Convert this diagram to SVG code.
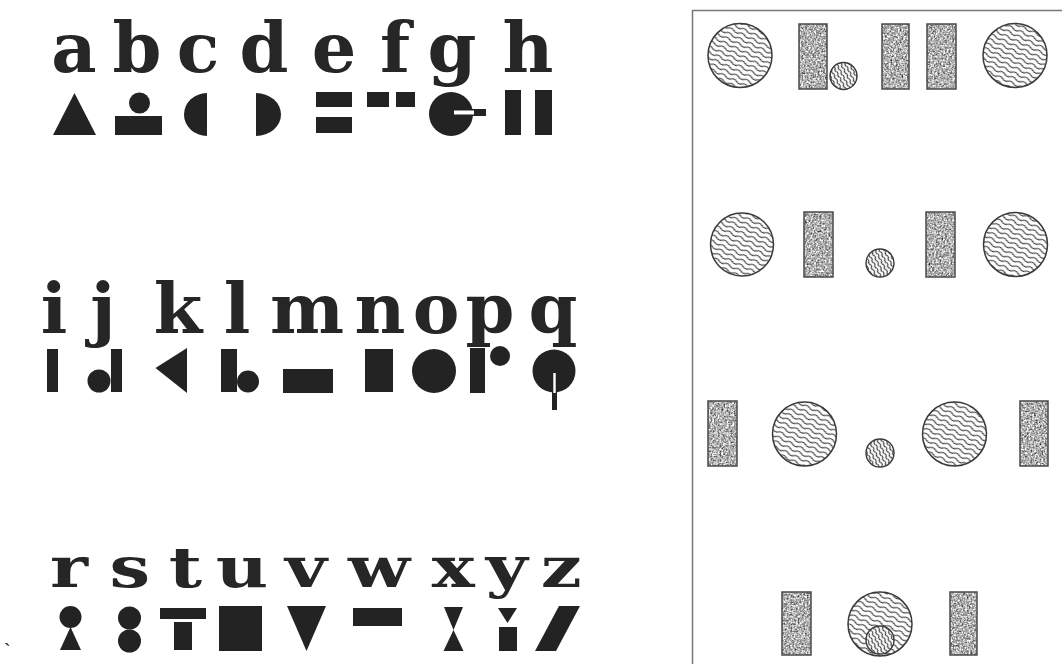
<svg xmlns="http://www.w3.org/2000/svg" width="1062" height="664" viewBox="0 0 1062 664">
<defs>
<style>
.L{font-family:"DejaVu Serif","Liberation Serif",serif;font-weight:bold;font-size:70px;fill:#262626;text-anchor:middle}
.s{fill:#232323}
.big{fill:url(#wave);stroke:#3a3a3a;stroke-width:1.5}
.sm{fill:url(#wave2);stroke:#3a3a3a;stroke-width:1.4}
.rt{filter:url(#speck)}
.ro{fill:none;stroke:#4a4a4a;stroke-width:1.5}
</style>
<pattern id="wave" patternUnits="userSpaceOnUse" width="12" height="5" patternTransform="rotate(25)">
<rect width="12" height="5" fill="#fff"/>
<path d="M0 2.5 Q3 0.4 6 2.5 T12 2.5" fill="none" stroke="#3a3a3a" stroke-width="1.1"/>
</pattern>
<pattern id="wave2" patternUnits="userSpaceOnUse" width="6" height="3.8" patternTransform="rotate(62)">
<rect width="6" height="3.8" fill="#fff"/>
<path d="M0 1.9 Q1.5 0.5 3 1.9 T6 1.9" fill="none" stroke="#333" stroke-width="1.1"/>
</pattern>
<filter id="speck" x="0" y="0" width="100%" height="100%" color-interpolation-filters="sRGB">
<feTurbulence type="fractalNoise" baseFrequency="0.55" numOctaves="2" seed="5"/>
<feColorMatrix type="matrix" values="0.33 0.33 0.33 0 0 0.33 0.33 0.33 0 0 0.33 0.33 0.33 0 0 0 0 0 0 1"/>
<feComponentTransfer>
<feFuncR type="linear" slope="2.3" intercept="-0.45"/>
<feFuncG type="linear" slope="2.3" intercept="-0.45"/>
<feFuncB type="linear" slope="2.3" intercept="-0.45"/>
</feComponentTransfer>
<feComposite in2="SourceGraphic" operator="in"/>
</filter>
</defs>
<rect width="1062" height="664" fill="#fff"/>

<g id="row1">
<g id="a"><text class="L" x="74" y="72">a</text><polygon class="s" points="53,135 74.5,93 96,135"/></g>
<g id="b"><text class="L" x="137" y="72">b</text><circle class="s" cx="139.5" cy="103" r="10.5"/><rect class="s" x="115" y="116" width="47" height="19"/></g>
<g id="c"><text class="L" x="198" y="72">c</text><path class="s" d="M207,93 A23,21.5 0 0 0 207,136 Z"/></g>
<g id="d"><text class="L" x="264" y="72">d</text><path class="s" d="M256,93 A25,21.5 0 0 1 256,136 Z"/></g>
<g id="e"><text class="L" x="334" y="72">e</text><rect class="s" x="316" y="92" width="36" height="15"/><rect class="s" x="316" y="117" width="36" height="16"/></g>
<g id="f"><text class="L" x="395" y="72">f</text><rect class="s" x="367" y="92" width="22" height="15"/><rect class="s" x="396" y="92" width="19" height="15"/></g>
<g id="g"><text class="L" x="452" y="72">g</text><circle class="s" cx="451" cy="114" r="22"/><rect class="s" x="452" y="109" width="34" height="7"/><rect x="454" y="110.5" width="20" height="4" fill="#fff"/></g>
<g id="h"><text class="L" x="528" y="72">h</text><rect class="s" x="505" y="90" width="16" height="45"/><rect class="s" x="535" y="90" width="17" height="45"/></g>
</g>

<g id="row2">
<g id="i"><text class="L" x="54" y="333">i</text><rect class="s" x="47" y="349" width="11" height="43"/></g>
<g id="j"><text class="L" x="103" y="333">j</text><rect class="s" x="111" y="349" width="11" height="43"/><circle class="s" cx="99" cy="381" r="11.5"/></g>
<g id="k"><text class="L" x="178" y="333">k</text><polygon class="s" points="155.5,368 187,348 187,393"/></g>
<g id="l"><text class="L" x="237" y="333">l</text><rect class="s" x="221" y="349" width="16" height="43"/><circle class="s" cx="248" cy="381.5" r="11"/></g>
<g id="m"><text class="L" x="307" y="333">m</text><rect class="s" x="283" y="369" width="50" height="24"/></g>
<g id="n"><text class="L" x="380" y="333">n</text><rect class="s" x="365" y="349" width="28" height="43"/></g>
<g id="o"><text class="L" x="436" y="333">o</text><circle class="s" cx="434" cy="371" r="22"/></g>
<g id="p"><text class="L" x="490" y="333">p</text><rect class="s" x="470" y="348" width="15" height="45"/><circle class="s" cx="500" cy="356" r="10"/></g>
<g id="q"><text class="L" x="553" y="333">q</text><circle class="s" cx="554" cy="371" r="21.5"/><rect class="s" x="552" y="372" width="5" height="38"/><rect x="553.3" y="373" width="2.4" height="20" fill="#fff"/></g>
</g>

<g id="row3">
<g transform="translate(0,587) scale(1.03,0.8) translate(0,-587)">
<text class="L" x="67" y="587">r</text>
<text class="L" x="126" y="587">s</text>
<text class="L" x="180" y="587">t</text>
<text class="L" x="235" y="587">u</text>
<text class="L" x="297" y="587">v</text>
<text class="L" x="368" y="587">w</text>
<text class="L" x="440" y="587">x</text>
<text class="L" x="492" y="587">y</text>
<text class="L" x="545" y="587">z</text>
</g>
<g id="r"><circle class="s" cx="70.5" cy="617" r="11"/><polygon class="s" points="70.5,627 81,650 60,650"/></g>
<g id="s"><circle class="s" cx="129.5" cy="618" r="11.5"/><circle class="s" cx="129.5" cy="641" r="11.5"/></g>
<g id="t"><rect class="s" x="160" y="608" width="46" height="11"/><rect class="s" x="174" y="622" width="18" height="28"/></g>
<g id="u"><rect class="s" x="219" y="606" width="43" height="45"/></g>
<g id="v"><polygon class="s" points="287,606 326,606 306.5,651"/></g>
<g id="w"><rect class="s" x="353" y="608" width="49" height="18"/></g>
<g id="x"><polygon class="s" points="444,607 463,607 453.5,630"/><polygon class="s" points="453.5,630 463.5,651 443.5,651"/></g>
<g id="y"><polygon class="s" points="498,608 517,608 507.5,623"/><rect class="s" x="499" y="627" width="18" height="24"/></g>
<g id="z"><polygon class="s" points="559,606 580,606 556,651 535,651"/></g>
</g>
<text x="4" y="658" font-family="Liberation Sans, sans-serif" font-size="20" fill="#222">`</text>

<g id="panel">
<path d="M692.5,664 V10.5 H1062" fill="none" stroke="#777" stroke-width="1.5"/>
</g>

<g id="prow1">
<circle class="big" cx="740" cy="55.5" r="32"/>
<rect class="rt" x="799" y="24" width="28" height="65"/><rect class="ro" x="799" y="24" width="28" height="65"/>
<circle class="sm" cx="843.5" cy="76" r="13.5"/>
<rect class="rt" x="882" y="24" width="27" height="65"/><rect class="ro" x="882" y="24" width="27" height="65"/>
<rect class="rt" x="927" y="24" width="29" height="65"/><rect class="ro" x="927" y="24" width="29" height="65"/>
<circle class="big" cx="1015" cy="55.5" r="32"/>
</g>

<g id="prow2">
<circle class="big" cx="742" cy="244.5" r="31.5"/>
<rect class="rt" x="804" y="212" width="29" height="65"/><rect class="ro" x="804" y="212" width="29" height="65"/>
<circle class="sm" cx="880" cy="263" r="14"/>
<rect class="rt" x="926" y="212" width="29" height="65"/><rect class="ro" x="926" y="212" width="29" height="65"/>
<circle class="big" cx="1015.5" cy="244.5" r="32"/>
</g>

<g id="prow3">
<rect class="rt" x="708" y="401" width="29" height="65"/><rect class="ro" x="708" y="401" width="29" height="65"/>
<circle class="big" cx="804.5" cy="434" r="32"/>
<circle class="sm" cx="880" cy="453" r="14"/>
<circle class="big" cx="954.5" cy="434" r="32"/>
<rect class="rt" x="1020" y="401" width="28" height="65"/><rect class="ro" x="1020" y="401" width="28" height="65"/>
</g>

<g id="prow4">
<rect class="rt" x="782" y="592" width="29" height="63"/><rect class="ro" x="782" y="592" width="29" height="63"/>
<circle class="big" cx="880" cy="624" r="32"/>
<circle class="sm" cx="880" cy="640" r="14"/>
<rect class="rt" x="950" y="592" width="27" height="63"/><rect class="ro" x="950" y="592" width="27" height="63"/>
</g>
</svg>
